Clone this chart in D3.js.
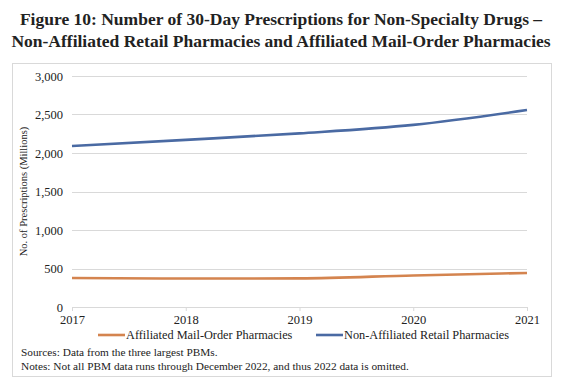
<!DOCTYPE html>
<html>
<head>
<meta charset="utf-8">
<script src="https://cdn.jsdelivr.net/npm/d3@7"></script>
<style>
  body { margin: 0; background: #fff; }
  text { font-family: "Liberation Serif", "Times New Roman", serif; fill: #222; }
</style>
</head>
<body>
<div class="chart"></div>
<script>
// chart data
var years = [2017, 2018, 2019, 2020, 2021];
var mailOrder = [377, 370, 372, 410, 442];
var retail = [2091, 2170, 2255, 2365, 2558];
var yTicks = [0, 500, 1000, 1500, 2000, 2500, 3000];

var svgWidth = 563;
var svgHeight = 385;

var margin = { top: 76, right: 36, bottom: 78, left: 72 };
var width = svgWidth - margin.left - margin.right;
var height = svgHeight - margin.top - margin.bottom;

var svg = d3.select(".chart")
  .append("svg")
  .attr("width", svgWidth)
  .attr("height", svgHeight);

// title
var title = svg.append("text")
  .attr("x", 281)
  .attr("text-anchor", "middle")
  .style("font-weight", "bold")
  .style("font-size", "17.5px");
title.append("tspan").attr("x", 281).attr("y", 25)
  .text("Figure 10: Number of 30-Day Prescriptions for Non-Specialty Drugs \u2013");
title.append("tspan").attr("x", 281).attr("y", 47)
  .text("Non-Affiliated Retail Pharmacies and Affiliated Mail-Order Pharmacies");

// outer frame
svg.append("rect")
  .attr("x", 12.5).attr("y", 63.5)
  .attr("width", 539).attr("height", 313)
  .attr("fill", "none")
  .attr("stroke", "#d9d9d9");

var chart = svg.append("g")
  .attr("transform", "translate(" + margin.left + "," + margin.top + ")");

var x = d3.scaleLinear().domain([2017, 2021]).range([0, width]);
var y = d3.scaleLinear().domain([0, 3000]).range([height, 0]);

// gridlines
chart.append("g")
  .selectAll("line")
  .data(yTicks)
  .enter().append("line")
  .attr("x1", 0).attr("x2", width)
  .attr("y1", function(d) { return Math.round(y(d)) + 0.5; })
  .attr("y2", function(d) { return Math.round(y(d)) + 0.5; })
  .attr("stroke", "#d9d9d9");

// y axis labels
var leftAxis = d3.axisLeft(y).tickValues(yTicks).tickSize(0).tickPadding(9)
  .tickFormat(d3.format(","));
chart.append("g").call(leftAxis)
  .call(function(g) { g.select(".domain").remove(); })
  .selectAll("text")
  .style("font-size", "12.5px")
  .style("font-family", "Liberation Serif, serif")
  .attr("fill", "#222");

// x axis
var bottomAxis = d3.axisBottom(x).tickValues(years).tickSize(4).tickPadding(4)
  .tickFormat(d3.format("d"));
var xg = chart.append("g")
  .attr("transform", "translate(0," + height + ")")
  .call(bottomAxis);
xg.select(".domain").attr("stroke", "#d9d9d9");
xg.selectAll(".tick line").attr("stroke", "#d9d9d9");
xg.selectAll("text")
  .style("font-size", "12.5px")
  .style("font-family", "Liberation Serif, serif")
  .attr("fill", "#222");

// y axis title
chart.append("text")
  .attr("transform", "rotate(-90)")
  .attr("x", -height / 2)
  .attr("y", -45)
  .attr("text-anchor", "middle")
  .style("font-size", "10.5px")
  .text("No. of Prescriptions (Millions)");

var line = d3.line()
  .x(function(d, i) { return x(years[i]); })
  .y(function(d) { return y(d); })
  .curve(d3.curveMonotoneX);

chart.append("path")
  .datum(mailOrder)
  .attr("d", line)
  .attr("fill", "none")
  .attr("stroke", "#d4844f")
  .attr("stroke-width", 2.6);

chart.append("path")
  .datum(retail)
  .attr("d", line)
  .attr("fill", "none")
  .attr("stroke", "#4a6aa3")
  .attr("stroke-width", 2.6);

// legend
var legendItems = [
  { name: "Affiliated Mail-Order Pharmacies", color: "#d4844f", x: 98 },
  { name: "Non-Affiliated Retail Pharmacies", color: "#4a6aa3", x: 316 }
];
var legend = svg.selectAll(".legend")
  .data(legendItems)
  .enter().append("g")
  .attr("class", "legend")
  .attr("transform", function(d) { return "translate(" + d.x + ",335)"; });
legend.append("line")
  .attr("x1", 0).attr("x2", 27)
  .attr("stroke", function(d) { return d.color; })
  .attr("stroke-width", 2.6);
legend.append("text")
  .attr("x", 28)
  .attr("y", 4)
  .style("font-size", "12.3px")
  .text(function(d) { return d.name; });

// notes
svg.append("text")
  .attr("x", 21).attr("y", 356)
  .style("font-size", "11.3px")
  .text("Sources: Data from the three largest PBMs.");
svg.append("text")
  .attr("x", 21).attr("y", 370)
  .style("font-size", "11.3px")
  .text("Notes: Not all PBM data runs through December 2022, and thus 2022 data is omitted.");
</script>
</body>
</html>
